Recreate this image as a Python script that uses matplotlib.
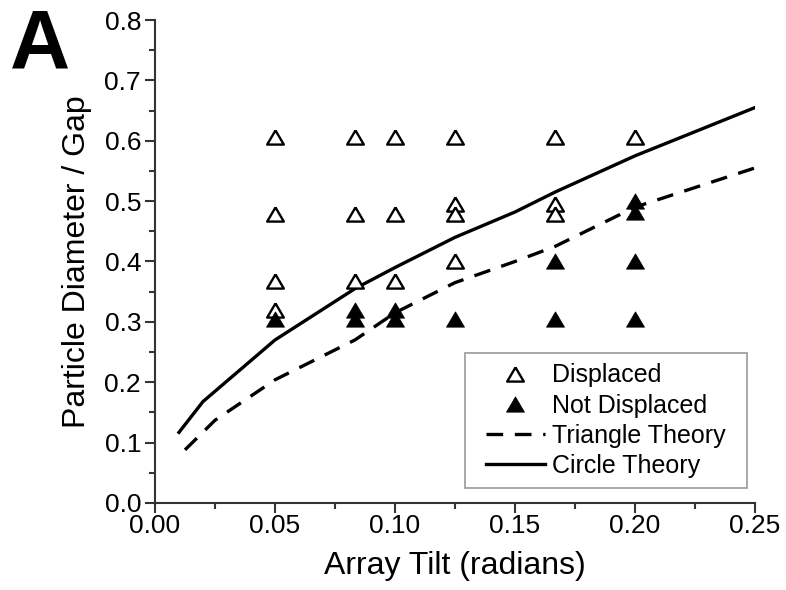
import matplotlib.pyplot as plt
from matplotlib.patches import Rectangle
from matplotlib.ticker import MultipleLocator

plt.rcParams['font.family'] = ['Liberation Sans', 'DejaVu Sans']

# Displaced particles (open triangles)
disp_x = [0.05, 0.05, 0.05, 0.05,
          0.0833, 0.0833, 0.0833,
          0.1, 0.1, 0.1,
          0.125, 0.125, 0.125, 0.125,
          0.1667, 0.1667, 0.1667,
          0.2]
disp_y = [0.607, 0.478, 0.368, 0.32,
          0.607, 0.478, 0.368,
          0.607, 0.478, 0.368,
          0.607, 0.495, 0.478, 0.40,
          0.607, 0.495, 0.478,
          0.607]

# Not displaced particles (filled triangles)
nodisp_x = [0.05,
            0.0833, 0.0833,
            0.1, 0.1,
            0.125,
            0.1667, 0.1667,
            0.2, 0.2, 0.2, 0.2]
nodisp_y = [0.305,
            0.32, 0.305,
            0.32, 0.305,
            0.305,
            0.401, 0.305,
            0.50, 0.482, 0.401, 0.305]

# Theory curves
circle_x = [0.01, 0.02, 0.05, 0.0833, 0.1, 0.125, 0.15, 0.1667, 0.2, 0.25]
circle_y = [0.117, 0.168, 0.27, 0.355, 0.39, 0.44, 0.482, 0.515, 0.575, 0.655]
tri_x = [0.0125, 0.025, 0.05, 0.0833, 0.1, 0.125, 0.15, 0.1667, 0.2, 0.25]
tri_y = [0.088, 0.137, 0.204, 0.27, 0.315, 0.365, 0.40, 0.425, 0.49, 0.555]

# slightly flattened triangle, like the original symbols
tri_marker = [(0, 0.85), (-1, -0.85), (1, -0.85), (0, 0.85)]

fig = plt.figure(figsize=(7.86, 5.9), dpi=100)
ax = fig.add_axes([0.1972, 0.1475, 0.7634, 0.8186])

ax.plot(disp_x, disp_y, linestyle='none', marker=tri_marker, markersize=12,
        markerfacecolor='white', markeredgecolor='black', markeredgewidth=1.7,
        label='Displaced', zorder=3)
ax.plot(nodisp_x, nodisp_y, linestyle='none', marker=tri_marker,
        markersize=13, markerfacecolor='black', markeredgecolor='black',
        markeredgewidth=0.5, label='Not Displaced', zorder=3)
ax.plot(tri_x, tri_y, color='black', linewidth=2.4, dashes=(5, 3.5),
        label='Triangle Theory')
ax.plot(circle_x, circle_y, color='black', linewidth=2.4,
        label='Circle Theory')

ax.set_xlim(0, 0.25)
ax.set_ylim(0, 0.8)
ax.xaxis.set_major_locator(MultipleLocator(0.05))
ax.xaxis.set_minor_locator(MultipleLocator(0.025))
ax.yaxis.set_major_locator(MultipleLocator(0.1))
ax.yaxis.set_minor_locator(MultipleLocator(0.05))
ax.xaxis.set_major_formatter(plt.FormatStrFormatter('%.2f'))
ax.yaxis.set_major_formatter(plt.FormatStrFormatter('%.1f'))

for s in ['top', 'right']:
    ax.spines[s].set_visible(False)
for s in ['left', 'bottom']:
    ax.spines[s].set_linewidth(1.5)
    ax.spines[s].set_color('#333333')
ax.tick_params(which='major', direction='out', length=7, width=1.5,
               labelsize=19, color='#333333', pad=3)
ax.tick_params(which='minor', direction='out', length=4, width=1.5,
               color='#333333')
ax.tick_params(axis='x', which='major', pad=1)

ax.set_xlabel('Array Tilt (radians)', fontsize=23)
ax.set_ylabel('Particle Diameter / Gap', fontsize=23)
ax.xaxis.set_label_coords(0.5, -0.10)
ax.yaxis.set_label_coords(-0.105, 0.5)

# legend without its own frame; the box is drawn below with wider
# side padding than top/bottom padding, as in the original
leg = ax.legend(loc='lower right', bbox_to_anchor=(0.968, 0.031),
                fontsize=18, frameon=False, handlelength=2.35,
                handletextpad=0.3, borderpad=0.4, labelspacing=0.25,
                borderaxespad=0)
leg.set_zorder(5)

fig.text(0.012, 1 - 68 / 590, 'A', fontsize=60, fontweight='bold',
         va='baseline', ha='left')

fig.canvas.draw()
bb = leg.get_window_extent()
side_pad = 11
box = Rectangle((bb.x0 - side_pad, bb.y0), bb.width + 2 * side_pad,
                bb.height, transform=None, facecolor='white',
                edgecolor='#999999', linewidth=1.2, zorder=4.9)
ax.add_artist(box)
box.set_clip_on(False)

fig.savefig('out.png', dpi=100)
